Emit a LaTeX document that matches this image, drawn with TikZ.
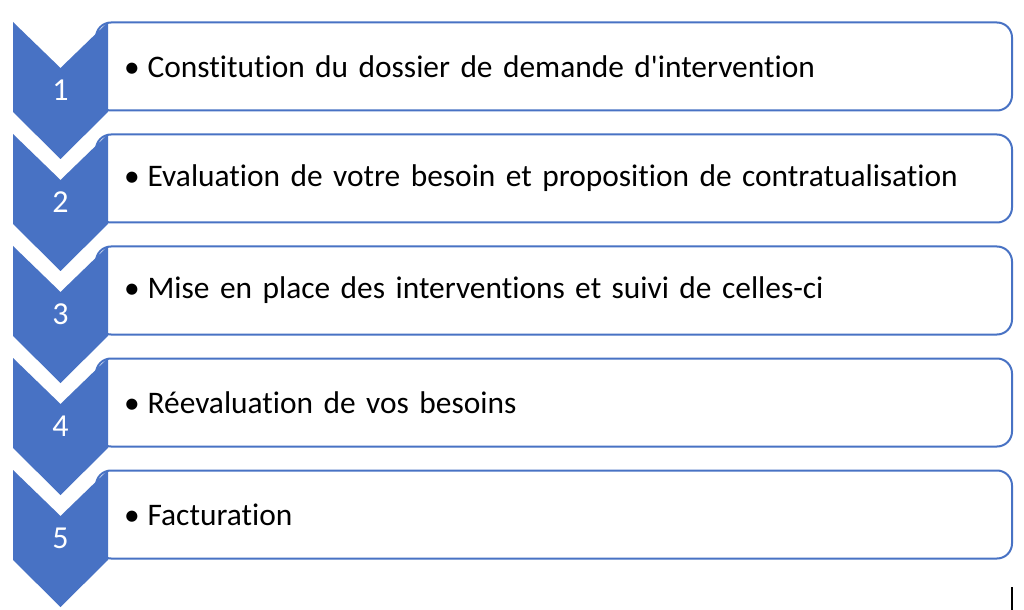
\documentclass[tikz,border=0pt]{standalone}
\usepackage{fontspec}
\setmainfont{Carlito}[Ligatures={NoCommon}]
\usepackage{tikz}
\usetikzlibrary{positioning, calc}
\definecolor{stepblue}{RGB}{72,114,196}

\begin{document}
\begin{tikzpicture}[
    x=0.5pt, y=-0.5pt,
    stepbox/.style={draw=stepblue, line width=1pt, rectangle, rounded corners=7.5pt,
                    fill=white, anchor=west, minimum width=458pt, minimum height=44pt,
                    text width=430pt, inner xsep=14pt, align=left,
                    font=\fontsize{15.7}{19}\selectfont},
    chev/.style={fill=stepblue, draw=none},
    stepnum/.style={text=white, font=\fontsize{16}{18}\selectfont}
  ]
    \useasboundingbox[fill=white] (0,0) rectangle (1024,610);

    % boxes
    \node[stepbox] (box1) at (95,66.5)  {\textbullet\hspace{4pt}Constitution du dossier de demande d\textquotesingle intervention};
    \node[stepbox] (box2) at (95,178.5) {\textbullet\hspace{4pt}Evaluation de votre besoin et proposition de contratualisation};
    \node[stepbox] (box3) at (95,290.5) {\textbullet\hspace{4pt}Mise en place des interventions et suivi de celles-ci};
    \node[stepbox] (box4) at (95,402.5) {\textbullet\hspace{4pt}Réevaluation de vos besoins};
    \node[stepbox] (box5) at (95,514.5) {\textbullet\hspace{4pt}Facturation};

    % chevrons
    \fill[chev] (13,22)  -- (60.5,68)  -- (108,22)  -- (108,112) -- (60.5,159) -- (13,112) -- cycle;
    \fill[chev] (13,134) -- (60.5,180) -- (108,134) -- (108,224) -- (60.5,271) -- (13,224) -- cycle;
    \fill[chev] (13,246) -- (60.5,292) -- (108,246) -- (108,336) -- (60.5,383) -- (13,336) -- cycle;
    \fill[chev] (13,358) -- (60.5,404) -- (108,358) -- (108,448) -- (60.5,495) -- (13,448) -- cycle;
    \fill[chev] (13,470) -- (60.5,516) -- (108,470) -- (108,560) -- (60.5,607) -- (13,560) -- cycle;

    \node[stepnum] (n1) at (60.5,90)  {1};
    \node[stepnum] (n2) at (60.5,202) {2};
    \node[stepnum] (n3) at (60.5,314) {3};
    \node[stepnum] (n4) at (60.5,426) {4};
    \node[stepnum] (n5) at (60.5,538) {5};

    \draw[line width=0.8pt] (1012,587) -- (1012,610);
  \end{tikzpicture}
\end{document}
